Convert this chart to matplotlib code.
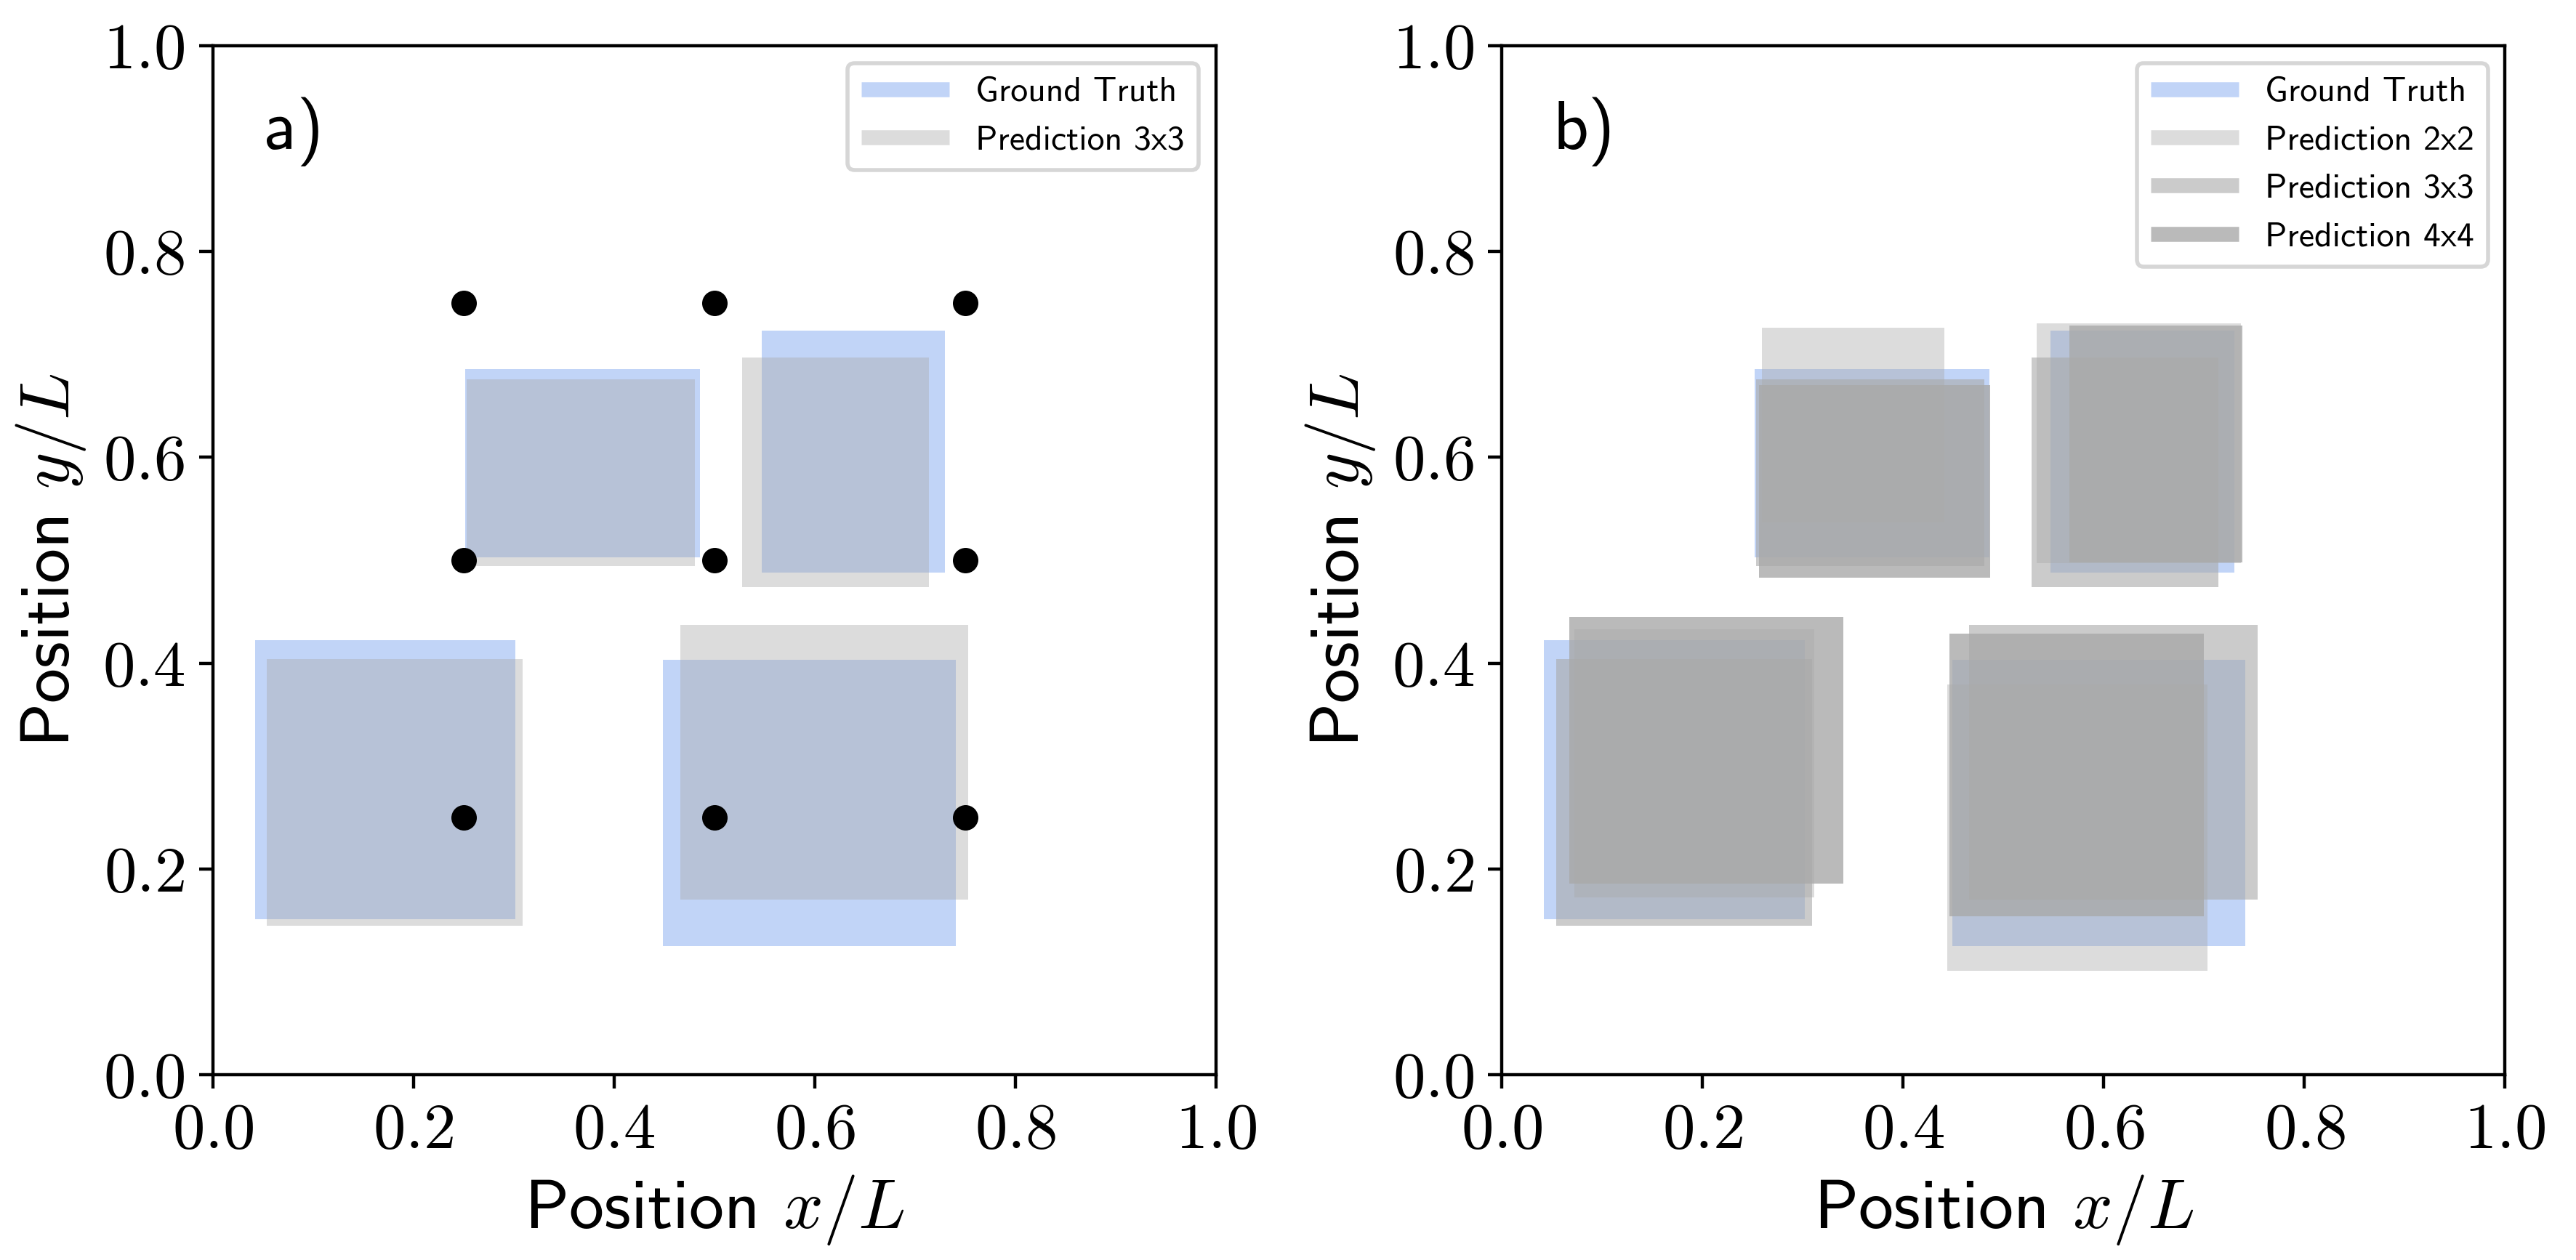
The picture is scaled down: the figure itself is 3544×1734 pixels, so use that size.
import matplotlib
matplotlib.use("Agg")
import matplotlib.pyplot as plt
from matplotlib.lines import Line2D
import numpy as np

plt.rcParams['mathtext.fontset'] = 'cm'
plt.rcParams['font.family'] = ['cmss10', 'DejaVu Sans']
plt.rcParams['axes.unicode_minus'] = False

# ---------------- data (boxes: x0, x1, y0, y1 in units of L) ----------------
gt_x0 = [0.252, 0.547, 0.042, 0.449]
gt_x1 = [0.486, 0.730, 0.302, 0.741]
gt_y0 = [0.503, 0.488, 0.151, 0.125]
gt_y1 = [0.686, 0.723, 0.422, 0.403]

p2_x0 = [0.259, 0.533, 0.072, 0.444]
p2_x1 = [0.441, 0.737, 0.311, 0.703]
p2_y0 = [0.537, 0.497, 0.172, 0.101]
p2_y1 = [0.726, 0.730, 0.433, 0.379]

p3_x0 = [0.253, 0.528, 0.054, 0.466]
p3_x1 = [0.481, 0.714, 0.309, 0.753]
p3_y0 = [0.494, 0.474, 0.145, 0.170]
p3_y1 = [0.676, 0.697, 0.404, 0.437]

p4_x0 = [0.256, 0.566, 0.067, 0.446]
p4_x1 = [0.487, 0.738, 0.340, 0.700]
p4_y0 = [0.483, 0.498, 0.186, 0.154]
p4_y1 = [0.670, 0.728, 0.445, 0.429]

sensor_x = [0.25, 0.50, 0.75]
sensor_y = [0.25, 0.50, 0.75]

tick_values = [0.0, 0.2, 0.4, 0.6, 0.8, 1.0]
tick_labels = ['0.0', '0.2', '0.4', '0.6', '0.8', '1.0']

gt_label = 'Ground Truth'
pred_labels = ['Prediction 2x2', 'Prediction 3x3', 'Prediction 4x4']
panel_labels = ['a)', 'b)']

# ---------------- styles ----------------
gt_color = 'cornflowerblue'
gt_alpha = 0.4
pred_color = 'darkgray'
pred_alphas = [0.4, 0.6, 0.8]
panel_a_alpha = 0.4

W, H, DPI = 3544, 1734, 400
fig = plt.figure(figsize=(W / DPI, H / DPI), dpi=DPI)

ax_w = 1380 / W
ax_h = 1416 / H
bottom = (H - 1479) / H
axA = fig.add_axes([292.7 / W, bottom, ax_w, ax_h])
axB = fig.add_axes([2066.4 / W, bottom, ax_w, ax_h])


def draw_boxes(ax, x0, x1, y0, y1, color, alpha):
    x0 = np.array(x0); x1 = np.array(x1)
    y0 = np.array(y0); y1 = np.array(y1)
    ax.bar(x0, y1 - y0, width=x1 - x0, bottom=y0, align='edge',
           color=color, alpha=alpha, linewidth=0)


def style_axes(ax, label):
    ax.set_xlim(0, 1)
    ax.set_ylim(0, 1)
    ax.set_xticks(tick_values)
    ax.set_yticks(tick_values)
    ax.set_xticklabels(['$' + t + '$' for t in tick_labels], fontsize=16)
    ax.set_yticklabels(['$' + t + '$' for t in tick_labels], fontsize=16)
    ax.set_xlabel('Position $x/L$', fontsize=17.3, labelpad=3)
    ax.set_ylabel('Position $y/L$', fontsize=17.3, labelpad=3.5)
    ax.text(0.051, 0.90, label, transform=ax.transAxes, fontsize=17,
            ha='left', va='baseline')


def handle(color, alpha):
    return Line2D([], [], color=color, alpha=alpha, lw=3.7,
                  solid_capstyle='butt')


LEG = dict(loc='upper right', fontsize=8.6, handlelength=2.53,
           handletextpad=0.75)

# ---- panel a ----
draw_boxes(axA, gt_x0, gt_x1, gt_y0, gt_y1, gt_color, gt_alpha)
draw_boxes(axA, p3_x0, p3_x1, p3_y0, p3_y1, pred_color, panel_a_alpha)
gx, gy = np.meshgrid(sensor_x, sensor_y)
axA.plot(gx.ravel(), gy.ravel(), 'o', color='k', ms=6.3, mew=0, zorder=5)
style_axes(axA, panel_labels[0])
axA.legend([handle(gt_color, gt_alpha), handle(pred_color, panel_a_alpha)],
           [gt_label, pred_labels[1]], **LEG)

# ---- panel b ----
draw_boxes(axB, gt_x0, gt_x1, gt_y0, gt_y1, gt_color, gt_alpha)
draw_boxes(axB, p2_x0, p2_x1, p2_y0, p2_y1, pred_color, pred_alphas[0])
draw_boxes(axB, p3_x0, p3_x1, p3_y0, p3_y1, pred_color, pred_alphas[1])
draw_boxes(axB, p4_x0, p4_x1, p4_y0, p4_y1, pred_color, pred_alphas[2])
style_axes(axB, panel_labels[1])
axB.legend([handle(gt_color, gt_alpha)] +
           [handle(pred_color, a) for a in pred_alphas],
           [gt_label] + pred_labels, **LEG)

fig.savefig('out.png', dpi=DPI)
